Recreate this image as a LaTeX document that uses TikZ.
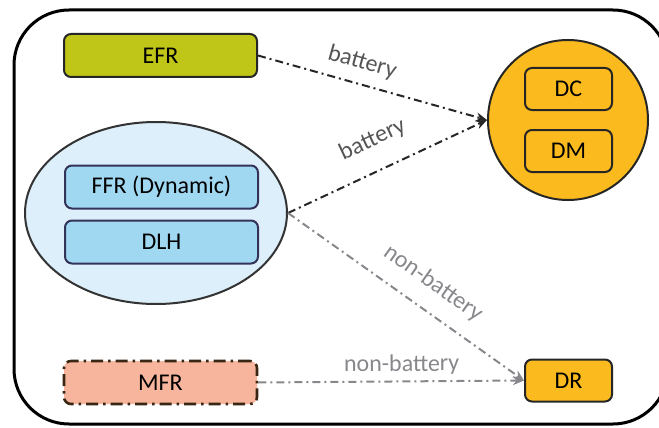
\documentclass[tikz,border=0pt]{standalone}
\usepackage{fontspec}
\setmainfont{Carlito}
\usetikzlibrary{arrows.meta,positioning,shapes.geometric}
\definecolor{efrfill}{RGB}{192,198,24}
\definecolor{cloudfill}{RGB}{221,239,250}
\definecolor{bluebox}{RGB}{160,216,242}
\definecolor{mfrfill}{RGB}{246,181,156}
\definecolor{dfill}{RGB}{251,187,30}
\definecolor{linegray}{RGB}{135,135,140}
\definecolor{txtgray}{RGB}{85,85,85}
\tikzset{
>={Stealth[length=11pt,width=9pt]},
  punkt/.style={
    rectangle,
    rounded corners=7pt,
    draw=black!85, line width=2pt,
    minimum width=193pt,
    minimum height=43pt,
    text centered,
    font=\fontsize{24}{28}\selectfont},
  small/.style={punkt, minimum width=87pt, minimum height=42pt, fill=dfill},
  inner/.style={punkt, fill=bluebox, draw=black!75!blue!60!gray},
  battery/.style={draw, line width=2pt, black!85,
    dash pattern=on 8pt off 4pt on 2pt off 4pt, ->},
  nonbattery/.style={battery, linegray},
  lbl/.style={sloped, midway, font=\fontsize{24}{28}\selectfont, text=txtgray},
}

\begin{document}
\begin{tikzpicture}[x=1pt,y=-1pt]
    \useasboundingbox (0,0) rectangle (659,428);
    \draw[line width=3pt, rounded corners=55pt] (14,10) rectangle (668,424);

    \node [punkt, fill=efrfill](efr) at (160.5,55.5){EFR};
    \node [ellipse, draw=black!80, line width=2pt, fill=cloudfill,
      minimum width=262pt, minimum height=182pt](cloud) at (156,213){};
    \node [inner](ffr) at (161.5,187){FFR (Dynamic)};
    \node [inner, below=10pt of ffr](dlh){DLH};
    \node [punkt, fill=mfrfill, draw=black!70!brown, line width=2.6pt,
      dash pattern=on 12pt off 5pt on 2.5pt off 5pt](mfr) at (160.5,382.5){MFR};

    \node [circle, draw=black!85, line width=2pt, fill=dfill,
      minimum size=160pt](dd) at (568,120){};
    \node [small](dc) at (568.5,89){DC};
    \node [small, below=18pt of dc](dm){DM};
    \node [small](dr) at (568.5,380.5){DR};

    \draw[battery] (efr.east) -- (dd.west)
      node[lbl, pos=0.43, above=7pt]{battery};
    \draw[battery] (cloud.east) -- (dd.west)
      node[lbl, pos=0.49, above=16pt]{battery};
    \draw[nonbattery] (cloud.east) -- (dr.west)
      node[lbl, pos=0.55, above=12pt, text=linegray]{non-battery};
    \draw[nonbattery] (mfr.east) -- (dr.west)
      node[lbl, pos=0.54, above=2pt, text=linegray]{non-battery};

\end{tikzpicture}
\end{document}
